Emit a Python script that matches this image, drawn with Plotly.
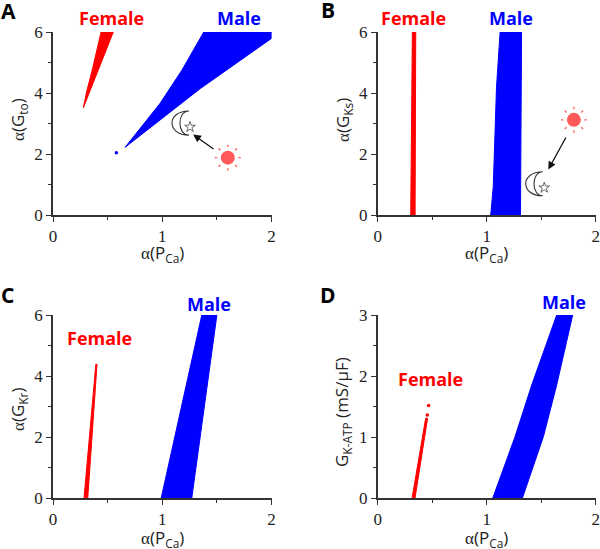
import math
import plotly.graph_objects as go

W, H = 600, 549

# Region outlines: (alpha(PCa), y)
a_female_x = [0.278, 0.308, 0.363, 0.44, 0.552, 0.421, 0.332, 0.278]
a_female_y = [3.52, 4.04, 4.81, 6, 6, 4.81, 4.04, 3.52]
a_male_x = [0.66, 0.98, 1.18, 1.38, 2.0, 2.0, 1.35, 0.66]
a_male_y = [2.22, 3.66, 4.75, 6, 6, 5.79, 4.15, 2.22]
a_dot_x = [0.58]
a_dot_y = [2.04]

b_female_x = [0.303, 0.318, 0.349, 0.343, 0.303]
b_female_y = [0, 6, 6, 0, 0]
b_male_x = [1.037, 1.06, 1.09, 1.123, 1.32, 1.31, 1.037]
b_male_y = [0, 0.93, 4.2, 6, 6, 0, 0]

c_female_x = [0.284, 0.392, 0.403, 0.318, 0.284]
c_female_y = [0, 4.39, 4.39, 0, 0]
c_male_x = [0.99, 1.362, 1.50, 1.27, 0.99]
c_male_y = [0, 6, 6, 0, 0]

d_female_x = [0.315, 0.44, 0.458, 0.342, 0.315]
d_female_y = [0, 1.31, 1.31, 0, 0]
d_dot_x = [0.455, 0.467]
d_dot_y = [1.365, 1.52]
d_male_x = [1.055, 1.26, 1.413, 1.642, 1.789, 1.642, 1.52, 1.327, 1.055]
d_male_y = [0, 1.008, 1.854, 3, 3, 1.854, 1.008, 0, 0]

x_ticks = [0, 1, 2]
y_ticks_g = [0, 2, 4, 6]
y_ticks_k = [0, 1, 2, 3]

RED, BLUE = "#ff0000", "#0000ff"
SUN = "#ff5a5a"
SERIF = "Liberation Serif"
SANS = "Open Sans"
BOLD = "Open Sans"
AXC = "#333333"


def px(x):
    return x / W


def py(y):
    return 1 - y / H


panels = [
    dict(n="", l=53, r=271.5, t=32, b=215, ymax=6, ticks=y_ticks_g, dtick=1,
         f=(a_female_x, a_female_y), m=(a_male_x, a_male_y), dots=(a_dot_x, a_dot_y, BLUE)),
    dict(n="2", l=377.7, r=595.7, t=32, b=215, ymax=6, ticks=y_ticks_g, dtick=1,
         f=(b_female_x, b_female_y), m=(b_male_x, b_male_y), dots=None),
    dict(n="3", l=53, r=271.5, t=315, b=498.3, ymax=6, ticks=y_ticks_g, dtick=1,
         f=(c_female_x, c_female_y), m=(c_male_x, c_male_y), dots=None),
    dict(n="4", l=377.7, r=595.7, t=315, b=498.3, ymax=3, ticks=y_ticks_k, dtick=0.5,
         f=(d_female_x, d_female_y), m=(d_male_x, d_male_y), dots=(d_dot_x, d_dot_y, RED)),
]

fig = go.Figure()
layout = dict(
    template="none",
    width=W, height=H, margin=dict(l=0, r=0, t=0, b=0, pad=0),
    paper_bgcolor="white", plot_bgcolor="white", showlegend=False,
)
annotations = []
shapes = []


def note(x, y, text, size, color="black", family=SANS, angle=0):
    annotations.append(dict(
        xref="paper", yref="paper", x=px(x), y=py(y), text=text, showarrow=False,
        xanchor="center", yanchor="middle", textangle=angle,
        font=dict(size=size, color=color, family=family),
    ))


for p in panels:
    xa, ya = "x" + p["n"], "y" + p["n"]
    layout["xaxis" + p["n"]] = dict(
        domain=[px(p["l"]), px(p["r"])], range=[0, 2], anchor=ya, automargin=False,
        tickmode="array", tickvals=x_ticks, ticks="outside", ticklen=5, tickwidth=1.2,
        tickcolor=AXC, showline=True, linecolor=AXC, linewidth=1.5, showgrid=False, zeroline=False,
        minor=dict(tickmode="array", tickvals=[0.5, 1.5], ticks="outside", ticklen=3, tickwidth=1, tickcolor=AXC),
        tickfont=dict(family=SERIF, size=17, color="#222222"),
    )
    layout["yaxis" + p["n"]] = dict(
        domain=[py(p["b"]), py(p["t"])], range=[0, p["ymax"]], anchor=xa, automargin=False,
        tickmode="array", tickvals=p["ticks"], ticks="outside", ticklen=5, tickwidth=1.2,
        tickcolor=AXC, showline=True, linecolor=AXC, linewidth=1.5, showgrid=False, zeroline=False,
        minor=dict(tickmode="array",
                   tickvals=[t + p["dtick"] for t in p["ticks"][:-1]] if p["dtick"] == 1 else [0.5, 1.5, 2.5],
                   ticks="outside", ticklen=3, tickwidth=1, tickcolor=AXC),
        tickfont=dict(family=SERIF, size=17, color="#222222"),
    )
    for (xs, ys), col in ((p["f"], RED), (p["m"], BLUE)):
        fig.add_trace(go.Scatter(x=xs, y=ys, mode="lines", fill="toself", fillcolor=col,
                                 line=dict(color=col, width=1), xaxis=xa, yaxis=ya, hoverinfo="skip"))
    if p["dots"]:
        dx, dy, col = p["dots"]
        fig.add_trace(go.Scatter(x=dx, y=dy, mode="markers", marker=dict(color=col, size=3.5),
                                 xaxis=xa, yaxis=ya, hoverinfo="skip"))


def sun_and_moon(n, sx, sy, tip_x, tip_top, tip_bot, out_c, in_c, star_x, star_y, a_from, a_to):
    xa, ya = "x" + n, "y" + n
    fig.add_trace(go.Scatter(x=[sx], y=[sy], mode="markers", marker=dict(color=SUN, size=14),
                             xaxis=xa, yaxis=ya, hoverinfo="skip"))
    for k in range(8):
        ang = k * math.pi / 4
        c, s = math.cos(ang), math.sin(ang)
        fig.add_trace(go.Scatter(
            x=[sx + 10.5 * c / 109.25, sx + 13 * c / 109.25],
            y=[sy + 10.5 * s / 30.5, sy + 13 * s / 30.5],
            mode="lines", line=dict(color=SUN, width=1.3), xaxis=xa, yaxis=ya, hoverinfo="skip"))
    path = (f"M {tip_x} {tip_top} C {out_c} {tip_top} {out_c} {tip_bot} {tip_x} {tip_bot} "
            f"C {in_c} {tip_bot} {in_c} {tip_top} {tip_x} {tip_top} Z")
    shapes.append(dict(type="path", xref=xa, yref=ya, path=path,
                       line=dict(color="#333333", width=1.1), fillcolor="white"))
    fig.add_trace(go.Scatter(x=[star_x], y=[star_y], mode="markers",
                             marker=dict(symbol="star-open", size=8, color="#444444", line=dict(width=0.8)),
                             xaxis=xa, yaxis=ya, hoverinfo="skip"))
    annotations.append(dict(xref=xa, yref=ya, axref=xa, ayref=ya, x=a_to[0], y=a_to[1],
                            ax=a_from[0], ay=a_from[1], text="", showarrow=True,
                            arrowhead=2, arrowsize=1.2, arrowwidth=1.3, arrowcolor="#111111"))


sun_and_moon("", 1.6, 1.88, 1.245, 3.41, 2.62, 1.037, 1.134, 1.254, 2.885, (1.483, 2.13), (1.283, 2.64))
sun_and_moon("2", 1.80, 3.12, 1.514, 1.42, 0.63, 1.306, 1.407, 1.528, 0.895, (1.734, 2.59), (1.565, 1.49))

# Panel letters
note(8, 11, "<b>A</b>", 21, family=BOLD)
note(328, 10, "<b>B</b>", 21, family=BOLD)
note(7, 295, "<b>C</b>", 21, family=BOLD)
note(328, 295, "<b>D</b>", 21, family=BOLD)

# Series labels
for x, y, t, c in [(111.7, 18, "Female", RED), (239, 18, "Male", BLUE),
                   (413.7, 18, "Female", RED), (511, 18, "Male", BLUE),
                   (99, 338, "Female", RED), (209, 304, "Male", BLUE),
                   (430.7, 379, "Female", RED), (564, 302, "Male", BLUE)]:
    note(x, y, f"<b>{t}</b>", 18, color=c, family=BOLD)

# Axis titles
alpha = f'<span style="font-family:{SERIF}">α</span>'
xt = f"{alpha}(P<sub>Ca</sub>)"
for x, y in [(162, 253), (486, 253), (162, 538), (486, 538)]:
    note(x, y, xt, 17, color="#222222")
note(18, 120, f"{alpha}(G<sub>to</sub>)", 17, color="#222222", angle=-90)
note(343, 120, f"{alpha}(G<sub>Ks</sub>)", 17, color="#222222", angle=-90)
note(18, 410, f"{alpha}(G<sub>Kr</sub>)", 17, color="#222222", angle=-90)
note(342, 412, "G<sub>K-ATP</sub> (mS/μF)", 17, color="#222222", angle=-90)

layout["annotations"] = annotations
layout["shapes"] = shapes
fig.update_layout(**layout)
fig.write_html("out.html", post_script="document.body.style.margin='0';",
               config=dict(displayModeBar=False))
